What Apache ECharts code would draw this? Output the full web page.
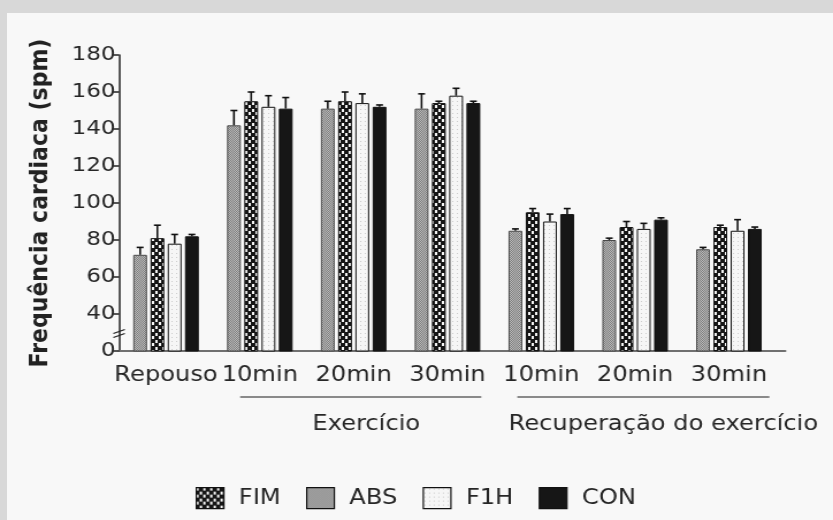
<!DOCTYPE html>
<html><head><meta charset="utf-8">
<script src="https://cdn.jsdelivr.net/npm/echarts@6/dist/echarts.min.js"></script>
<style>
html,body{margin:0;padding:0;width:833px;height:520px;overflow:hidden;background:#d8d8d8;}
#panel{position:absolute;left:7px;top:13px;width:826px;height:507px;background:#f8f8f8;}
#chart{position:absolute;left:0;top:0;width:724px;height:520px;transform:scaleX(1.1506);transform-origin:0 0;}
</style></head><body><div id="panel"></div><div id="chart"></div>
<script>
// ---- data ----
const categories = ['Repouso', '10min', '20min', '30min', '10min', '20min', '30min'];
const yTicks = [20, 40, 60, 80, 100, 120, 140, 160, 180]; // 20 shown as "0" (broken axis)
const seriesNames = ['ABS', 'FIM', 'F1H', 'CON'];
const legendOrder = ['FIM', 'ABS', 'F1H', 'CON'];
const ABS = [72, 142, 151, 151, 85, 80, 75];
const ABS_err = [4, 8, 4, 8, 1, 1, 1];
const FIM = [81, 155, 155, 154, 95, 87, 87];
const FIM_err = [7, 5, 5, 1, 2, 3, 1];
const F1H = [78, 152, 154, 158, 90, 86, 85];
const F1H_err = [5, 6, 5, 4, 4, 3, 6];
const CON = [82, 151, 152, 154, 94, 91, 86];
const CON_err = [1, 6, 1, 1, 3, 1, 1];
const groupLabels = ['Exercício', 'Recuperação do exercício'];
const yTitle = 'Frequência cardiaca (spm)';

// ---- layout / style ----
const FONT = 'DejaVu Sans';
const TXT = '#262626';
const G = {left: 103.5, top: 55, bottom: 169, width: 570.8};
const BAR_W = 12, BAR_GAP = 3, CAP = 3;

function pat(w, h, draw) {
  const c = document.createElement('canvas'); c.width = w; c.height = h;
  draw(c.getContext('2d')); return {image: c, repeat: 'repeat'};
}
const fills = {
  ABS: pat(2, 2, g => { g.fillStyle = '#b9b9b9'; g.fillRect(0,0,2,2); g.fillStyle = '#7f7f7f'; g.fillRect(0,0,1,1); g.fillRect(1,1,1,1); }),
  FIM: pat(6, 7, g => { g.fillStyle = '#161616'; g.fillRect(0,0,6,7); g.fillStyle = '#f4f4f4'; g.fillRect(0,0,2,3); g.fillRect(3,4,2,3); }),
  F1H: pat(4, 4, g => { g.fillStyle = '#f6f6f6'; g.fillRect(0,0,4,4); g.fillStyle = '#cdcdcd'; g.fillRect(1,1,1,1); }),
  CON: '#161616'
};
const vals = {ABS, FIM, F1H, CON};
const errs = {ABS: ABS_err, FIM: FIM_err, F1H: F1H_err, CON: CON_err};

const series = [];
seriesNames.forEach((n, idx) => {
  series.push({
    type: 'bar', name: n, data: vals[n], barWidth: BAR_W, barGap: (BAR_GAP / BAR_W * 100) + '%',
    itemStyle: {color: fills[n], borderColor: n === 'ABS' ? '#4a4a4a' : '#111', borderWidth: 1},
    z: 2
  });
});
seriesNames.forEach((n, idx) => {
  series.push({
    type: 'custom', name: n + ' erro', z: 5, silent: true,
    encode: {x: 0, y: 1},
    data: vals[n].map((v, k) => [k, v, errs[n][k]]),
    renderItem: (params, api) => {
      const i = api.value(0), v = api.value(1), e = api.value(2);
      const b = api.coord([i, v]), t = api.coord([i, v + e]);
      const x = b[0] + (idx - 1.5) * (BAR_W + BAR_GAP);
      return {type: 'group', children: [
        {type: 'line', shape: {x1: x, y1: b[1], x2: x, y2: t[1]}, style: {stroke: '#111', lineWidth: 1.6}},
        {type: 'line', shape: {x1: x - CAP, y1: t[1], x2: x + CAP, y2: t[1]}, style: {stroke: '#111', lineWidth: 1.6}}
      ]};
    }
  });
});

const chart = echarts.init(document.getElementById('chart'), null, {renderer: 'canvas'});
const option = {
  animation: false,
  backgroundColor: 'transparent',
  textStyle: {fontFamily: FONT},
  grid: [
    {left: G.left, top: G.top, bottom: G.bottom, width: G.width},
    {left: G.left, top: G.top, bottom: G.bottom, width: 579}
  ],
  legend: {
    data: legendOrder, left: 165, top: 482, itemWidth: 24, itemHeight: 21, itemGap: 22,
    icon: 'rect',
    itemStyle: {borderColor: '#111', borderWidth: 1.2},
    textStyle: {fontFamily: FONT, fontSize: 21, color: TXT, padding: [0, 0, 0, 8]}
  },
  xAxis: [
    {type: 'category', data: categories, gridIndex: 0,
     axisLine: {show: false}, axisTick: {show: false},
     axisLabel: {interval: 0, margin: 14, fontFamily: FONT, fontSize: 21, color: TXT}},
    {type: 'value', gridIndex: 1, min: 0, max: 1,
     axisLine: {show: true, lineStyle: {color: '#707070', width: 2}},
     axisTick: {show: false}, axisLabel: {show: false}, splitLine: {show: false}}
  ],
  yAxis: [
    {type: 'value', gridIndex: 0, min: yTicks[0], max: yTicks[yTicks.length - 1], interval: yTicks[1] - yTicks[0],
     name: yTitle, nameLocation: 'middle', nameGap: 57, nameRotate: 90,
     nameTextStyle: {fontFamily: FONT, fontSize: 22, fontWeight: 'bold', color: '#222'},
     axisLine: {show: true, lineStyle: {color: '#222', width: 1.5}},
     axisTick: {show: true, length: 5, lineStyle: {color: '#222', width: 1.5}},
     axisLabel: {margin: 3, fontFamily: FONT, fontSize: 20, color: TXT,
                 formatter: v => (v === yTicks[0] ? '0' : String(v))},
     splitLine: {show: false}},
    {type: 'value', gridIndex: 1, show: false}
  ],
  series: series,
  graphic: [
    {type: 'line', shape: {x1: 208.7, y1: 397, x2: 418.3, y2: 397}, style: {stroke: '#8a8a8a', lineWidth: 2}},
    {type: 'line', shape: {x1: 449.6, y1: 397, x2: 668.7, y2: 397}, style: {stroke: '#8a8a8a', lineWidth: 2}},
    {type: 'text', x: 318.3, y: 425, style: {text: groupLabels[0], fontFamily: FONT, fontSize: 21, fill: TXT, align: 'center', verticalAlign: 'middle'}},
    {type: 'text', x: 576.5, y: 425, style: {text: groupLabels[1], fontFamily: FONT, fontSize: 21, fill: TXT, align: 'center', verticalAlign: 'middle'}}
  ]
};
chart.setOption(option);
// axis break mark between 0 and 40
const yb = chart.convertToPixel({yAxisIndex: 0}, 30);
chart.setOption({graphic: option.graphic.concat([
  {type: 'line', shape: {x1: G.left - 5, y1: yb + 1, x2: G.left + 5, y2: yb - 3}, style: {stroke: '#222', lineWidth: 1.3}},
  {type: 'line', shape: {x1: G.left - 5, y1: yb + 5, x2: G.left + 5, y2: yb + 1}, style: {stroke: '#222', lineWidth: 1.3}}
])});
</script></body></html>
